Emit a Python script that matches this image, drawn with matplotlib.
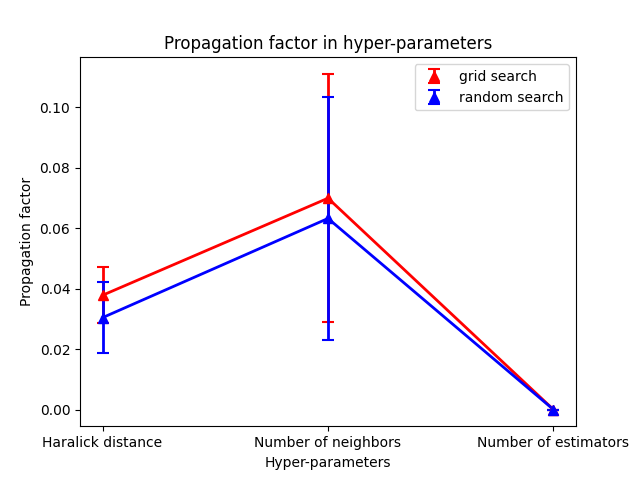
import matplotlib.pyplot as plt
import numpy as np

params = ["Haralick distance", "Number of neighbors", "Number of estimators"]
grid_mean = [0.0378, 0.0699, 0.0]
grid_err = [0.0093, 0.0410, 0.0]
random_mean = [0.0304, 0.0632, 0.0]
random_err = [0.0118, 0.0402, 0.0]

fig, ax = plt.subplots(figsize=(6.4, 4.79))
x = np.arange(len(params))
# lines drawn separately so the legend only shows the errorbar markers
ax.plot(x, grid_mean, color="red", linewidth=2)
ax.plot(x, random_mean, color="blue", linewidth=2)
ax.errorbar(x, grid_mean, yerr=grid_err, fmt="^", color="red", markersize=7,
            elinewidth=2, capsize=4, capthick=1.5, label="grid search")
ax.errorbar(x, random_mean, yerr=random_err, fmt="^", color="blue", markersize=7,
            elinewidth=2, capsize=4, capthick=1.5, label="random search")
ax.set_xticks(x)
ax.set_xticklabels(params)
ax.set_xlabel("Hyper-parameters")
ax.set_ylabel("Propagation factor")
ax.set_title("Propagation factor in hyper-parameters")
ax.legend()
fig.savefig("out.png")
